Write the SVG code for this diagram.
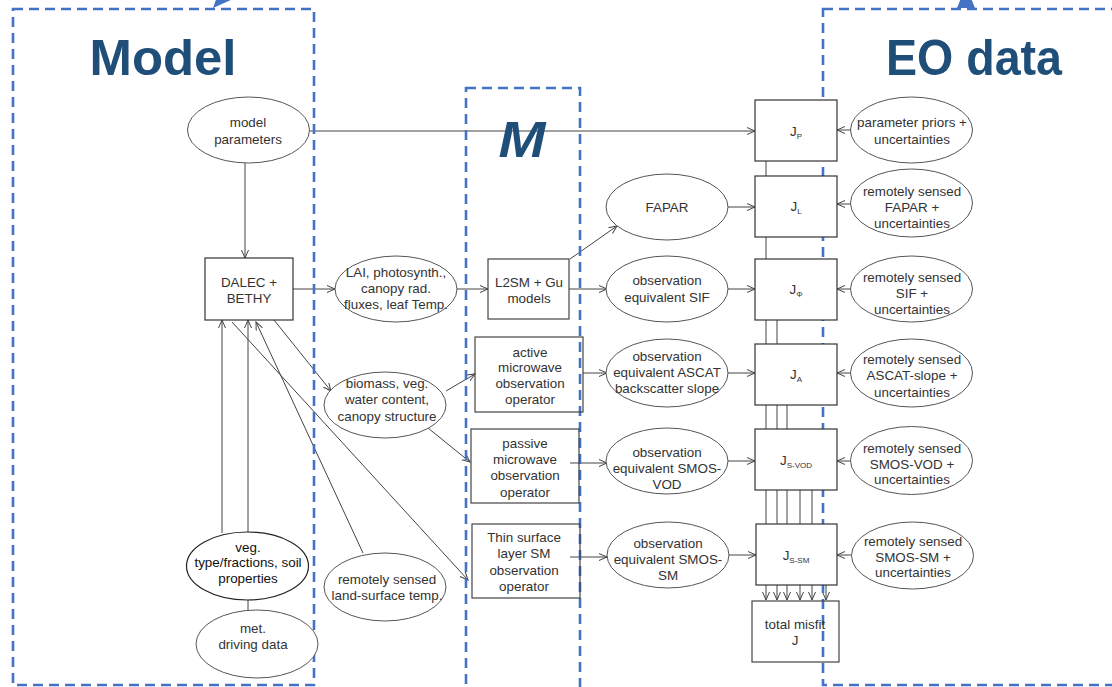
<svg xmlns="http://www.w3.org/2000/svg" width="1112" height="687" viewBox="0 0 1112 687">
<defs>
<marker id="arr" markerUnits="userSpaceOnUse" markerWidth="10" markerHeight="10" refX="8" refY="4" orient="auto">
<path d="M0,0.5 L8,4 L0,7.5" fill="none" stroke="#444" stroke-width="1"/>
</marker>
<style>
.frame{fill:none;stroke:#4472C4;stroke-width:2.6;stroke-dasharray:10,6}
.title{font-family:"Liberation Sans",Arial,sans-serif;font-weight:bold;fill:#1F4E79;text-anchor:middle}
.c{fill:none;stroke:#444;stroke-width:1;marker-end:url(#arr)}
.el{fill:#fff;stroke:#555;stroke-width:1}
.bx{fill:none;stroke:#444;stroke-width:1.2}
.jb{fill:#fff;stroke:#333;stroke-width:1.2}
.t{font-family:"Liberation Sans",Arial,sans-serif;font-size:13.4px;fill:#333;text-anchor:middle}
.tb{font-family:"Liberation Sans",Arial,sans-serif;font-size:13.4px;fill:#111;text-anchor:middle}
.sub{font-size:8px}
</style>
</defs>
<rect width="1112" height="687" fill="#fff"/>

<g id="connectors">
<path class="c" d="M310,131 H755"/>
<path class="c" d="M245,163 V258"/>
<path class="c" d="M293,289 H335"/>
<path class="c" d="M457,289 H488"/>
<path class="c" d="M570,259 L617,226"/>
<path class="c" d="M569,289 H607"/>
<path class="c" d="M728,207 H755"/>
<path class="c" d="M728,289 H755"/>
<path class="c" d="M274,320 L331,391"/>
<path class="c" d="M446,391 L475,374"/>
<path class="c" d="M428,428 L470,462"/>
<path class="c" d="M583,373 H607"/>
<path class="c" d="M728,373 H755"/>
<path class="c" d="M570,463 H607"/>
<path class="c" d="M728,461 H755"/>
<path class="c" d="M232,322 L468,580"/>
<path class="c" d="M570,557 H607"/>
<path class="c" d="M729,555 H756"/>
<path class="c" d="M363,553 L256,322"/>
<path class="c" d="M222,533 V320"/>
<path class="c" d="M248,611 V320"/>
<path class="c" d="M851,130 H837"/>
<path class="c" d="M851,204 H837"/>
<path class="c" d="M851,289 H837"/>
<path class="c" d="M851,373 H837"/>
<path class="c" d="M851,461 H837"/>
<path class="c" d="M852,555 H837"/>
<path class="c" d="M766,161 V600"/>
<path class="c" d="M777,320 V600"/>
<path class="c" d="M787,405 V600"/>
<path class="c" d="M800,490 V600"/>
<path class="c" d="M812,490 V600"/>
<path class="c" d="M826,585 V600"/>
</g>

<g id="frames">
<rect class="frame" x="13" y="9" width="301" height="676"/>
<rect class="frame" x="466" y="88" width="114" height="640"/>
<rect class="frame" x="823" y="9" width="320" height="676"/>
<polygon points="213,8 218,-6 233,-1" fill="#4472C4"/>
<polygon points="957,8 975,8 966,-14" fill="#4472C4"/>
<text class="title" x="163" y="75" font-size="50" textLength="147" lengthAdjust="spacingAndGlyphs">Model</text>
<text class="title" x="974" y="75" font-size="50" textLength="176" lengthAdjust="spacingAndGlyphs">EO data</text>
<text class="title" x="522" y="157" font-size="50" font-style="italic" textLength="47" lengthAdjust="spacingAndGlyphs">M</text>
</g>

<g id="model-parameters"><ellipse class="el" cx="248.5" cy="130" rx="61" ry="33"/><text class="t" x="248" y="126.5">model</text><text class="t" x="248" y="143.5">parameters</text></g>
<g id="dalec"><rect class="jb" x="205" y="258" width="88" height="62"/><text class="t" x="249" y="286.5">DALEC +</text><text class="t" x="249" y="302.5">BETHY</text></g>
<g id="lai"><ellipse class="el" cx="396" cy="289" rx="61" ry="33"/><text class="t" x="396" y="276.5">LAI, photosynth.,</text><text class="t" x="396" y="292.5">canopy rad.</text><text class="t" x="396" y="308.5">fluxes, leaf Temp.</text></g>
<g id="l2sm"><rect class="bx" x="488" y="259" width="81" height="60"/><text class="t" x="529" y="286.5">L2SM + Gu</text><text class="t" x="529" y="302.5">models</text></g>
<g id="fapar"><ellipse class="el" cx="667" cy="207" rx="61" ry="33"/><text class="t" x="667" y="211.5">FAPAR</text></g>
<g id="obs-sif"><ellipse class="el" cx="667" cy="289" rx="61" ry="33"/><text class="t" x="667" y="284.5">observation</text><text class="t" x="667" y="301.5">equivalent SIF</text></g>
<g id="biomass"><ellipse class="el" cx="385" cy="405" rx="61" ry="33"/><text class="t" x="387" y="387.5">biomass, veg.</text><text class="t" x="387" y="403.5">water content,</text><text class="t" x="387" y="420.5">canopy structure</text></g>
<g id="active"><rect class="bx" x="475" y="337" width="108" height="75"/><text class="t" x="530" y="356.5">active</text><text class="t" x="530" y="371.5">microwave</text><text class="t" x="530" y="387.5">observation</text><text class="t" x="530" y="403.5">operator</text></g>
<g id="obs-ascat"><ellipse class="el" cx="667" cy="373" rx="61" ry="34"/><text class="t" x="667" y="360.5">observation</text><text class="t" x="667" y="376.5">equivalent ASCAT</text><text class="t" x="667" y="392.5">backscatter slope</text></g>
<g id="passive"><rect class="bx" x="471" y="429" width="108" height="74"/><text class="t" x="525" y="447.5">passive</text><text class="t" x="525" y="463.5">microwave</text><text class="t" x="525" y="479.5">observation</text><text class="t" x="525" y="496.5">operator</text></g>
<g id="obs-vod"><ellipse class="el" cx="667" cy="461" rx="61" ry="33"/><text class="t" x="667" y="456.5">observation</text><text class="t" x="667" y="472.5">equivalent SMOS-</text><text class="t" x="667" y="488.5">VOD</text></g>
<g id="thin"><rect class="bx" x="472" y="524" width="108" height="74"/><text class="t" x="524" y="541.5">Thin surface</text><text class="t" x="524" y="557.5">layer SM</text><text class="t" x="524" y="574.5">observation</text><text class="t" x="524" y="590.5">operator</text></g>
<g id="obs-sm"><ellipse class="el" cx="668" cy="555" rx="61" ry="33"/><text class="t" x="668" y="547.5">observation</text><text class="t" x="668" y="563.5">equivalent SMOS-</text><text class="t" x="668" y="579.5">SM</text></g>
<g id="veg"><ellipse cx="247.5" cy="566" rx="61" ry="34" fill="#fff" stroke="#222" stroke-width="1.2"/><text class="tb" x="248" y="551.5">veg.</text><text class="tb" x="248" y="566.5">type/fractions, soil</text><text class="tb" x="248" y="582.5">properties</text></g>
<g id="met"><ellipse class="el" cx="257" cy="644" rx="61" ry="34"/><text class="t" x="253" y="632.5">met.</text><text class="t" x="253" y="648.5">driving data</text></g>
<g id="lst"><ellipse class="el" cx="385" cy="587" rx="61" ry="34"/><text class="t" x="387" y="583.5">remotely sensed</text><text class="t" x="387" y="599.5">land-surface temp.</text></g>

<g id="jp"><rect class="jb" x="755" y="100" width="82" height="61"/><text class="t" x="796" y="136">J<tspan class="sub" dy="3">P</tspan></text></g>
<g id="jl"><rect class="jb" x="755" y="176" width="82" height="61"/><text class="t" x="796" y="211">J<tspan class="sub" dy="3">L</tspan></text></g>
<g id="jphi"><rect class="jb" x="755" y="259" width="82" height="61"/><text class="t" x="796" y="294">J<tspan class="sub" dy="3">Φ</tspan></text></g>
<g id="ja"><rect class="jb" x="755" y="344" width="82" height="61"/><text class="t" x="796" y="379">J<tspan class="sub" dy="3">A</tspan></text></g>
<g id="jsvod"><rect class="jb" x="755" y="429" width="82" height="61"/><text class="t" x="796" y="465">J<tspan class="sub" dy="3">S-VOD</tspan></text></g>
<g id="jssm"><rect class="jb" x="756" y="524" width="81" height="61"/><text class="t" x="796" y="560">J<tspan class="sub" dy="3">S-SM</tspan></text></g>
<g id="total"><rect class="bx" x="752" y="601" width="87" height="61"/><text class="t" x="795" y="628.5">total misfit</text><text class="t" x="795" y="644.5">J</text></g>

<g id="priors"><ellipse class="el" cx="911.5" cy="130" rx="61" ry="33"/><text class="t" x="912" y="126.5">parameter priors +</text><text class="t" x="912" y="143.5">uncertainties</text></g>
<g id="rs-fapar"><ellipse class="el" cx="911.5" cy="203" rx="61" ry="34"/><text class="t" x="912" y="195.5">remotely sensed</text><text class="t" x="912" y="211.5">FAPAR +</text><text class="t" x="912" y="227.5">uncertainties</text></g>
<g id="rs-sif"><ellipse class="el" cx="911.5" cy="289" rx="61" ry="33"/><text class="t" x="912" y="281.5">remotely sensed</text><text class="t" x="912" y="297.5">SIF +</text><text class="t" x="912" y="313.5">uncertainties</text></g>
<g id="rs-ascat"><ellipse class="el" cx="911.5" cy="373" rx="61" ry="34"/><text class="t" x="912" y="363.5">remotely sensed</text><text class="t" x="912" y="379.5">ASCAT-slope +</text><text class="t" x="912" y="396.5">uncertainties</text></g>
<g id="rs-vod"><ellipse class="el" cx="911.5" cy="460.5" rx="61" ry="34"/><text class="t" x="912" y="452.5">remotely sensed</text><text class="t" x="912" y="468.5">SMOS-VOD +</text><text class="t" x="912" y="483.5">uncertainties</text></g>
<g id="rs-sm"><ellipse class="el" cx="912.5" cy="555.5" rx="61" ry="33.5"/><text class="t" x="913" y="545.5">remotely sensed</text><text class="t" x="913" y="561.5">SMOS-SM +</text><text class="t" x="913" y="576.5">uncertainties</text></g>
</svg>
